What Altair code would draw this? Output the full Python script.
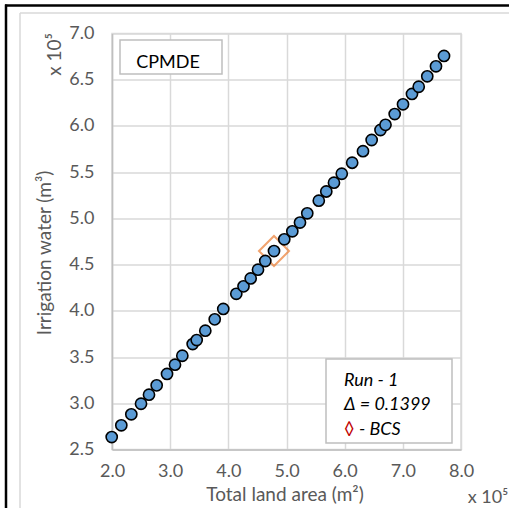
import altair as alt
import pandas as pd

# Total land area (x 10^5 m^2) and irrigation water (x 10^5 m^3) for each solution
land_area = [1.995, 2.160, 2.332, 2.499, 2.636, 2.768, 2.946, 3.083, 3.209, 3.387,
             3.456, 3.604, 3.766, 3.913, 4.137, 4.261, 4.384, 4.510, 4.635, 4.785,
             4.962, 5.100, 5.232, 5.357, 5.555, 5.684, 5.816, 5.950, 6.129, 6.315,
             6.464, 6.616, 6.702, 6.860, 7.003, 7.157, 7.273, 7.420, 7.570, 7.708]
irrigation_water = [2.635, 2.762, 2.881, 2.995, 3.093, 3.194, 3.317, 3.417, 3.514, 3.641,
                    3.684, 3.785, 3.908, 4.020, 4.184, 4.265, 4.350, 4.445, 4.539, 4.647,
                    4.774, 4.860, 4.955, 5.055, 5.191, 5.291, 5.386, 5.483, 5.602, 5.727,
                    5.848, 5.956, 6.012, 6.129, 6.234, 6.346, 6.424, 6.537, 6.645, 6.757]

# Best compromise solution
bcs_land = [4.785]
bcs_water = [4.647]

x_ticks = [2.0, 3.0, 4.0, 5.0, 6.0, 7.0, 8.0]
y_ticks = [2.5, 3.0, 3.5, 4.0, 4.5, 5.0, 5.5, 6.0, 6.5, 7.0]

x_title = "Total land area (m²)"
y_title = "Irrigation water (m³)"
scale_note = "x 10⁵"
model_name = "CPMDE"
run_label = "Run - 1"
delta_label = "Δ = 0.1399"
bcs_symbol = "◊"
bcs_label = "- BCS"

FONT = "Lato"
GREY_TEXT = "#595959"

pts = pd.DataFrame({"land": land_area, "water": irrigation_water})
bcs = pd.DataFrame({"land": bcs_land, "water": bcs_water})
one = pd.DataFrame({"k": [0]})

x_enc = alt.X("land:Q",
              scale=alt.Scale(domain=[2, 8], nice=False, zero=False),
              axis=alt.Axis(values=x_ticks, format=".1f", title=None,
                            grid=True, gridColor="#D9D9D9", gridWidth=1.5,
                            domainColor="#BFBFBF", domainWidth=1.5,
                            ticks=False, labelPadding=13, labelFontSize=18,
                            labelFlush=False, labelOverlap=False,
                            labelColor=GREY_TEXT, labelFont=FONT))
y_enc = alt.Y("water:Q",
              scale=alt.Scale(domain=[2.5, 7], nice=False, zero=False),
              axis=alt.Axis(values=y_ticks, format=".1f", title=None,
                            grid=True, gridColor="#D9D9D9", gridWidth=1.5,
                            domainColor="#BFBFBF", domainWidth=1.5,
                            ticks=False, labelPadding=18, labelFontSize=18,
                            labelFlush=False, labelOverlap=False,
                            labelColor=GREY_TEXT, labelFont=FONT))

points = alt.Chart(pts).mark_point(
    shape="circle", filled=True, size=125, fill="#5B9BD5",
    stroke="black", strokeWidth=1.6, opacity=1
).encode(x=x_enc, y=y_enc)

diamond = alt.Chart(bcs).mark_point(
    shape="diamond", filled=False, size=900, stroke="#ED7D31", strokeWidth=2
).encode(x=alt.X("land:Q"), y=alt.Y("water:Q"))


def box(x0, y0, x1, y1, stroke, width, fill=None):
    kw = dict(stroke=stroke, strokeWidth=width)
    if fill is None:
        kw["filled"] = False
    else:
        kw["fill"] = fill
    return alt.Chart(one).mark_rect(**kw).encode(
        x=alt.value(x0), x2=alt.value(x1), y=alt.value(y0), y2=alt.value(y1))


def hline(x0, x1, y, color, width):
    return alt.Chart(one).mark_rule(color=color, strokeWidth=width).encode(
        x=alt.value(x0), x2=alt.value(x1), y=alt.value(y))


def vline(x, y0, y1, color, width):
    return alt.Chart(one).mark_rule(color=color, strokeWidth=width).encode(
        x=alt.value(x), y=alt.value(y0), y2=alt.value(y1))


def label(txt, x, y, size=17, color="black", angle=0, align="center",
          italic=False):
    kw = dict(text=txt, fontSize=size, color=color, font=FONT, align=align,
              baseline="middle")
    if angle:
        kw["angle"] = angle
    if italic:
        kw["fontStyle"] = "italic"
    return alt.Chart(one).mark_text(**kw).encode(x=alt.value(x), y=alt.value(y))


# outer black frame and inner grey chart-area border (top and left sides)
frames = [
    hline(-107, 420, -28, "black", 2.5),
    vline(-106, -29, 500, "black", 2.5),
    hline(-92, 420, -20.5, "#D9D9D9", 1.5),
    vline(-92, -20.5, 500, "#D9D9D9", 1.5),
]

model_box = box(8, 6.5, 110, 40.5, "#BFBFBF", 1.5, fill="white")
legend_box = box(214, 325.5, 340, 409.5, "#BFBFBF", 1.5, fill="white")

texts = [
    label(y_title, -67, 219.5, size=19, color=GREY_TEXT, angle=270),
    label(x_title, 173, 461.5, size=19, color=GREY_TEXT),
    label(scale_note, -57, 21, size=19, color=GREY_TEXT, angle=270),
    label(scale_note, 376, 464, size=18, color=GREY_TEXT),
    label(model_name, 56, 29.5, size=18),
    label(run_label, 232, 347, size=18, align="left", italic=True),
    label(delta_label, 232, 371.5, size=18, align="left", italic=True),
    label(bcs_symbol, 232, 396.5, size=18, color="#C00000", align="left"),
    label(bcs_label, 247, 396.5, size=18, align="left", italic=True),
]

chart = alt.layer(
    *frames, diamond, points, model_box, legend_box, *texts
).properties(
    width=349, height=416,
    padding={"left": 112, "top": 33.5, "right": 48, "bottom": 58.5},
    autosize=alt.AutoSizeParams(type="none"),
    background="white",
).configure_view(stroke="#D9D9D9", strokeWidth=1.5)

chart.save("out.html", embed_options={"renderer": "svg", "actions": False})
